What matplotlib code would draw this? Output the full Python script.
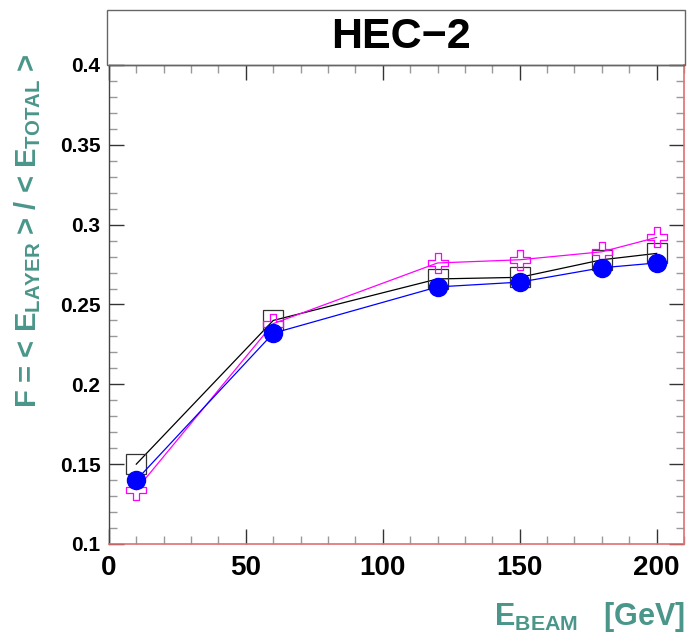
import matplotlib
matplotlib.use("Agg")
import matplotlib.pyplot as plt
from matplotlib.path import Path
from matplotlib.ticker import MultipleLocator
from matplotlib.patches import Rectangle

plt.rcParams["font.family"] = ["Liberation Sans", "DejaVu Sans"]
plt.rcParams["mathtext.fontset"] = "custom"
plt.rcParams["mathtext.rm"] = "Liberation Sans:bold"
plt.rcParams["mathtext.bf"] = "Liberation Sans:bold"

# Beam energies (GeV) and layer energy fractions
e_beam = [10, 60, 120, 150, 180, 200]
frac_data = [0.140, 0.232, 0.261, 0.264, 0.273, 0.276]
frac_mc_a = [0.150, 0.240, 0.266, 0.267, 0.278, 0.282]
frac_mc_b = [0.134, 0.238, 0.276, 0.278, 0.283, 0.292]

x_ticks = [0, 50, 100, 150, 200]
y_ticks = [0.1, 0.15, 0.2, 0.25, 0.3, 0.35, 0.4]
y_tick_labels = ["0.1", "0.15", "0.2", "0.25", "0.3", "0.35", "0.4"]

teal = "#4a968a"

# open cross marker (outline of a plus sign)
a = 1.0 / 3.0
cross_verts = [(-a, 1), (a, 1), (a, a), (1, a), (1, -a), (a, -a), (a, -1),
               (-a, -1), (-a, -a), (-1, -a), (-1, a), (-a, a), (-a, 1)]
open_cross = Path(cross_verts, closed=True)

fig = plt.figure(figsize=(6.98, 6.39), dpi=100)
ax = fig.add_axes([0.156, 0.1487, 0.824, 0.7496])

ax.plot(e_beam, frac_mc_a, color="black", lw=0.9, marker="s", ms=14,
        mfc="none", mec="#333333", mew=0.9, zorder=3)
ax.plot(e_beam, frac_mc_b, color="magenta", lw=0.9, marker=open_cross, ms=15,
        mfc="none", mec="magenta", mew=0.9, zorder=4)
ax.plot(e_beam, frac_data, color="blue", lw=0.9, marker="o", ms=13,
        mfc="blue", mec="blue", zorder=5)

ax.set_xlim(0, 210)
ax.set_ylim(0.1, 0.4)
ax.set_xticks(x_ticks)
ax.set_xticklabels([str(v) for v in x_ticks], fontsize=20, fontweight="bold")
ax.set_yticks(y_ticks)
ax.set_yticklabels(y_tick_labels, fontsize=15, fontweight="bold")
ax.xaxis.set_minor_locator(MultipleLocator(10))
ax.yaxis.set_minor_locator(MultipleLocator(0.01))
ax.tick_params(which="both", direction="in", top=True, right=True)
ax.tick_params(which="major", length=11, width=1.0, color="#333333")
ax.tick_params(which="minor", length=5.5, width=1.0, color="#999999")
ax.tick_params(axis="x", which="major", pad=8)
ax.tick_params(axis="y", which="major", pad=6)

for side in ("left", "top"):
    ax.spines[side].set_color("#444444")
    ax.spines[side].set_linewidth(1.0)
for side in ("bottom", "right"):
    ax.spines[side].set_color("#e07070")
    ax.spines[side].set_linewidth(1.2)

# title box above the frame
W, H = 698, 639
fig.patches.append(Rectangle((107 / W, 1 - 65 / H), (685 - 107) / W, (65 - 10) / H,
                             transform=fig.transFigure, fill=False,
                             edgecolor="#666666", lw=1.0))
fig.text(401 / W, 1 - 37 / H, "HEC\u22122", ha="center", va="center",
         fontsize=31, fontweight="bold")

fig.text(28 / W, 1 - 231 / H,
         r"F = < E$_{\mathrm{LAYER}}$ > / < E$_{\mathrm{TOTAL}}$ >",
         rotation=90, ha="center", va="center", fontsize=21,
         fontweight="bold", color=teal)
fig.text(685 / W, 1 - 625 / H, r"E$_{\mathrm{BEAM}}$   [GeV]",
         ha="right", va="baseline", fontsize=22, fontweight="bold", color=teal)

fig.savefig("out.png", dpi=100)
